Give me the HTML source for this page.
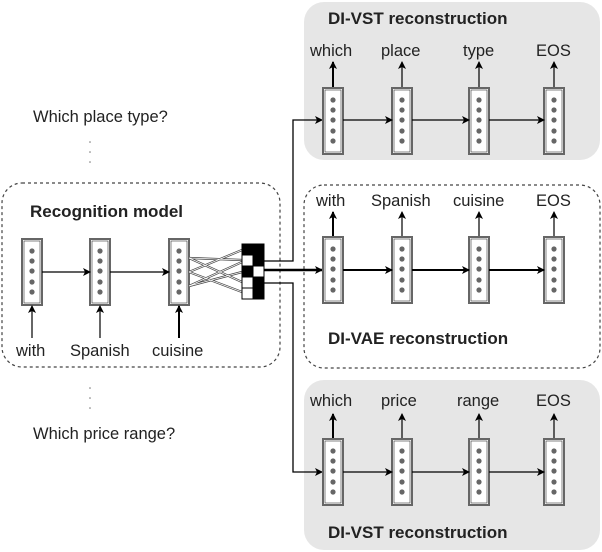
<!DOCTYPE html>
<html><head><meta charset="utf-8"><style>html,body{margin:0;padding:0;background:#fff}svg{display:block}text{font-family:"Liberation Sans",sans-serif;fill:#222}</style></head><body>
<svg width="602" height="552" viewBox="0 0 602 552" xmlns="http://www.w3.org/2000/svg">
<defs>
<g id="c"><rect x="0" y="0" width="20" height="66" fill="#fff" stroke="#666" stroke-width="2"/><rect x="2" y="2" width="16" height="62" fill="none" stroke="#333" stroke-width="0.6"/>
<circle cx="10" cy="12" r="2.6" fill="#666"/><circle cx="10" cy="22" r="2.6" fill="#666"/><circle cx="10" cy="32" r="2.6" fill="#666"/><circle cx="10" cy="43" r="2.6" fill="#666"/><circle cx="10" cy="53" r="2.6" fill="#666"/></g>
<marker id="a" markerWidth="8" markerHeight="8" refX="7" refY="4" orient="auto" markerUnits="userSpaceOnUse"><path d="M0,0 L8,4 L0,8 L2,4 z" fill="#000"/></marker>
</defs>
<rect x="304" y="2" width="296" height="158" rx="20" fill="#e6e6e6"/>
<rect x="304" y="380" width="296" height="170" rx="20" fill="#e6e6e6"/>
<rect x="2" y="183" width="278" height="184" rx="20" fill="none" stroke="#444" stroke-dasharray="3,3" stroke-width="1.2"/>
<rect x="304" y="185" width="296" height="183" rx="20" fill="none" stroke="#444" stroke-dasharray="3,3" stroke-width="1.2"/>
<g font-weight="bold" font-size="17"><text x="328" y="24">DI-VST reconstruction</text><text x="30" y="217">Recognition model</text><text x="328" y="344">DI-VAE reconstruction</text><text x="328" y="538">DI-VST reconstruction</text></g>
<g font-size="16.5">
<text x="33" y="122">Which place type?</text><text x="33" y="439">Which price range?</text>
<text x="310" y="56">which</text><text x="381" y="56">place</text><text x="463" y="56">type</text><text x="536" y="56">EOS</text>
<text x="316" y="206">with</text><text x="371" y="206">Spanish</text><text x="453" y="206">cuisine</text><text x="536" y="206">EOS</text>
<text x="310" y="406">which</text><text x="381" y="406">price</text><text x="457" y="406">range</text><text x="536" y="406">EOS</text>
<text x="16" y="356">with</text><text x="70" y="356">Spanish</text><text x="152" y="356">cuisine</text>
</g>
<g fill="#777"><circle cx="90" cy="142" r="0.8"/><circle cx="90" cy="152" r="0.8"/><circle cx="90" cy="162" r="0.8"/><circle cx="90" cy="388" r="0.8"/><circle cx="90" cy="398" r="0.8"/><circle cx="90" cy="408" r="0.8"/></g>
<use href="#c" x="22" y="239"/><use href="#c" x="90" y="239"/><use href="#c" x="169" y="239"/>
<g stroke="#000" stroke-width="1.2" fill="none" marker-end="url(#a)">
<line x1="42" y1="272" x2="90" y2="272"/><line x1="110" y1="272" x2="169" y2="272"/>
<line x1="32" y1="338" x2="32" y2="306"/><line x1="100" y1="338" x2="100" y2="306"/><line x1="179" y1="338" x2="179" y2="306" stroke-width="2"/>
</g>
<g stroke="#444" stroke-width="2.2" fill="none"><path d="M189,258 L242,260 M189,258 L242,282 M189,272 L242,250 M189,272 L242,292 M189,286 L242,262 M189,286 L242,272"/></g>
<g stroke="#fff" stroke-width="0.8" fill="none"><path d="M189,258 L242,260 M189,258 L242,282 M189,272 L242,250 M189,272 L242,292 M189,286 L242,262 M189,286 L242,272"/></g>
<g stroke="#000" stroke-width="1">
<rect x="242" y="244" width="11" height="11" fill="#000"/><rect x="242" y="255" width="11" height="11" fill="#fff"/><rect x="242" y="266" width="11" height="11" fill="#000"/><rect x="242" y="277" width="11" height="11" fill="#fff"/><rect x="242" y="288" width="11" height="11" fill="#fff"/>
<rect x="253" y="244" width="11" height="11" fill="#000"/><rect x="253" y="255" width="11" height="11" fill="#000"/><rect x="253" y="266" width="11" height="11" fill="#fff"/><rect x="253" y="277" width="11" height="11" fill="#000"/><rect x="253" y="288" width="11" height="11" fill="#000"/>
</g>
<g stroke="#000" fill="none" stroke-width="1.3">
<path d="M264,261 H293 V120 H322" marker-end="url(#a)"/>
<path d="M264,283 H293 V472 H322" marker-end="url(#a)"/>
<path d="M264,270 H322" stroke-width="2.6" marker-end="url(#a)"/>
</g>
<use href="#c" x="323" y="88"/><use href="#c" x="392" y="88"/><use href="#c" x="469" y="88"/><use href="#c" x="544" y="88"/>
<use href="#c" x="323" y="237"/><use href="#c" x="392" y="237"/><use href="#c" x="469" y="237"/><use href="#c" x="544" y="237"/>
<use href="#c" x="323" y="439"/><use href="#c" x="392" y="439"/><use href="#c" x="469" y="439"/><use href="#c" x="544" y="439"/>
<g stroke="#000" fill="none" stroke-width="1.2" marker-end="url(#a)">
<line x1="343" y1="120" x2="392" y2="120"/><line x1="412" y1="120" x2="469" y2="120"/><line x1="489" y1="120" x2="544" y2="120"/>
<line x1="333" y1="87" x2="333" y2="62" stroke-width="2"/><line x1="402" y1="87" x2="402" y2="62"/><line x1="479" y1="87" x2="479" y2="62"/><line x1="554" y1="87" x2="554" y2="62"/>
<line x1="343" y1="270" x2="392" y2="270" stroke-width="2"/><line x1="412" y1="270" x2="469" y2="270" stroke-width="2"/><line x1="489" y1="270" x2="544" y2="270" stroke-width="2"/>
<line x1="333" y1="236" x2="333" y2="212" stroke-width="2"/><line x1="402" y1="236" x2="402" y2="212"/><line x1="479" y1="236" x2="479" y2="212"/><line x1="554" y1="236" x2="554" y2="212"/>
<line x1="343" y1="472" x2="392" y2="472"/><line x1="412" y1="472" x2="469" y2="472"/><line x1="489" y1="472" x2="544" y2="472"/>
<line x1="333" y1="438" x2="333" y2="414" stroke-width="2"/><line x1="402" y1="438" x2="402" y2="414"/><line x1="479" y1="438" x2="479" y2="414"/><line x1="554" y1="438" x2="554" y2="414"/>
</g>
</svg>
</body></html>
